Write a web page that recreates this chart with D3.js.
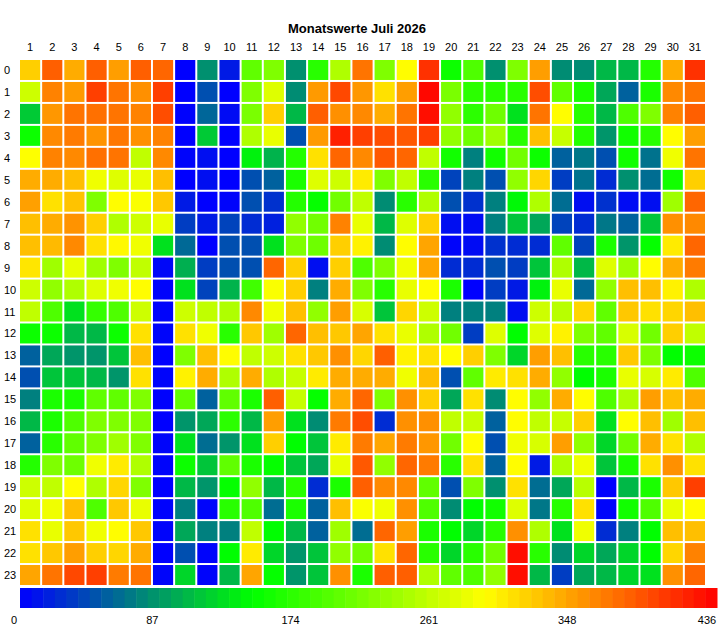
<!DOCTYPE html>
<html>
<head>
<meta charset="utf-8">
<script src="https://cdn.jsdelivr.net/npm/d3@7"></script>
<style>
  body { margin: 0; background: #fff; }
  text { font-family: "Liberation Sans", Arial, sans-serif; fill: #000; }
</style>
</head>
<body>
<svg id="chart" width="722" height="628"></svg>
<script>
const days = d3.range(1, 32);
const hours = d3.range(0, 24);
const legendTicks = [0, 87, 174, 261, 348, 436];
const maxValue = 436;

// one array per day, 24 hourly values (0..23)
const dayValues = [
  [318,262,115,152,290,338,345,327,327,305,262,255,152,55,45,73,105,55,165,262,272,308,308,342],
  [382,362,350,358,362,338,308,338,330,236,228,190,152,95,112,160,160,168,218,255,282,278,322,370],
  [338,348,370,366,358,327,325,352,358,278,245,128,105,85,112,160,190,200,208,292,327,322,346,395],
  [382,400,372,352,372,282,218,318,308,236,272,175,105,85,105,200,218,218,282,245,190,282,318,400],
  [346,370,370,368,370,272,292,245,294,218,282,190,152,112,85,200,218,236,302,314,322,292,314,366],
  [382,354,362,354,255,278,288,262,282,255,292,262,308,327,308,218,218,218,245,218,278,322,338,370],
  [378,400,392,362,358,327,322,278,128,4,2,2,3,0,2,1,0,3,2,0,1,2,0,3],
  [0,0,1,0,2,0,15,35,60,100,128,262,308,218,298,200,85,128,152,105,73,95,45,122],
  [82,45,58,115,8,8,0,15,0,35,38,255,282,327,338,55,95,62,112,85,2,73,2,2],
  [15,0,6,0,0,0,2,38,45,45,102,245,168,292,245,200,170,85,200,148,168,73,145,105],
  [200,218,215,245,138,45,45,25,45,45,182,358,322,255,338,160,105,128,160,228,190,255,302,342],
  [218,272,318,278,102,55,28,18,128,378,288,282,236,262,245,382,346,318,148,105,62,145,122,148],
  [82,80,105,45,165,160,165,228,218,318,318,327,378,308,258,258,128,145,112,168,160,105,85,85],
  [168,348,382,348,308,272,148,210,208,8,73,228,327,322,302,148,80,112,95,25,55,55,112,112],
  [245,395,354,418,378,262,210,362,318,318,338,346,322,354,338,338,366,302,278,160,327,236,228,354],
  [370,350,358,400,358,302,255,278,298,190,218,268,342,314,338,378,392,366,386,382,288,62,210,160],
  [218,308,338,392,386,218,80,105,80,218,168,112,308,382,338,218,25,342,228,358,282,378,308,382],
  [292,346,370,386,378,255,168,272,292,282,278,314,278,298,282,354,354,366,378,358,354,346,378,382],
  [408,432,428,400,255,168,245,318,342,342,292,262,245,308,327,318,354,350,366,200,190,160,168,245],
  [152,215,228,228,155,38,45,8,2,25,160,73,210,292,45,95,255,210,168,45,80,145,122,200],
  [190,170,170,208,73,73,28,6,6,25,0,73,35,318,200,308,258,292,308,218,145,122,168,190],
  [82,168,208,236,155,45,73,73,28,45,35,73,272,218,302,80,55,45,55,82,155,168,210,228],
  [218,168,128,168,210,228,142,112,25,35,15,8,145,122,308,292,292,282,292,308,272,354,428,428],
  [346,392,370,327,152,314,245,95,25,112,138,262,272,346,338,228,255,268,15,62,68,245,168,105],
  [80,200,292,258,55,35,62,38,200,245,278,250,298,327,228,338,258,346,245,95,168,128,80,35],
  [80,160,168,165,68,65,8,25,38,105,60,314,218,168,145,292,318,228,282,250,308,282,122,95],
  [105,95,105,85,45,25,28,68,160,272,228,200,200,168,160,190,128,122,112,0,2,25,95,105],
  [105,55,190,155,155,82,6,55,85,236,327,322,268,322,278,245,292,210,160,105,155,73,122,122],
  [165,160,218,168,65,62,8,112,148,292,327,308,210,218,268,346,327,338,308,160,190,145,145,128],
  [338,358,362,292,282,155,236,354,302,338,298,314,318,145,302,327,236,308,354,322,278,327,314,354],
  [408,370,382,346,370,318,378,358,378,366,245,327,255,152,190,338,327,245,308,400,292,327,362,378]
];

var svg = d3.select("#chart");

var color = d3.scaleLinear()
    .domain([0, maxValue / 3, maxValue * 2 / 3, maxValue])
    .range(["#0000ff", "#00ff00", "#ffff00", "#ff0000"]);

var x = d3.scaleBand().domain(days).range([20, 705]).paddingInner(0.09);
var y = d3.scaleBand().domain(hours).range([60, 585]).paddingInner(0.09);

// title
svg.append("text")
    .attr("x", 357)
    .attr("y", 33)
    .attr("text-anchor", "middle")
    .style("font-size", "13px")
    .style("font-weight", "bold")
    .text("Monatswerte Juli 2026");

// day labels
svg.selectAll(".day-label").data(days).enter().append("text")
    .attr("class", "day-label")
    .attr("x", d => x(d) + x.bandwidth() / 2)
    .attr("y", 51)
    .attr("text-anchor", "middle")
    .style("font-size", "11px")
    .text(d => d);

// hour labels
svg.selectAll(".hour-label").data(hours).enter().append("text")
    .attr("class", "hour-label")
    .attr("x", 4)
    .attr("y", d => y(d) + y.bandwidth() / 2 + 4)
    .style("font-size", "11px")
    .text(d => d);

// cells
var cells = [];
dayValues.forEach(function(vals, i) {
    vals.forEach(function(v, h) {
        cells.push({day: days[i], hour: h, value: v});
    });
});

svg.selectAll(".cell").data(cells).enter().append("rect")
    .attr("class", "cell")
    .attr("x", d => x(d.day))
    .attr("y", d => y(d.hour))
    .attr("width", x.bandwidth())
    .attr("height", y.bandwidth())
    .attr("fill", d => color(d.value));

// colour bar
const steps = 60;
var barX = d3.scaleLinear().domain([0, steps]).range([20, 717]);
svg.selectAll(".bar-step").data(d3.range(steps)).enter().append("rect")
    .attr("class", "bar-step")
    .attr("x", d => barX(d))
    .attr("y", 588)
    .attr("width", barX(1) - barX(0) + 0.5)
    .attr("height", 20)
    .attr("fill", d => color((d + 0.5) / steps * maxValue));

var legendX = d3.scaleLinear().domain([0, maxValue]).range([14, 707]);
svg.selectAll(".legend-label").data(legendTicks).enter().append("text")
    .attr("class", "legend-label")
    .attr("x", d => legendX(d))
    .attr("y", 624)
    .attr("text-anchor", "middle")
    .style("font-size", "11px")
    .text(d => d);
</script>
</body>
</html>
